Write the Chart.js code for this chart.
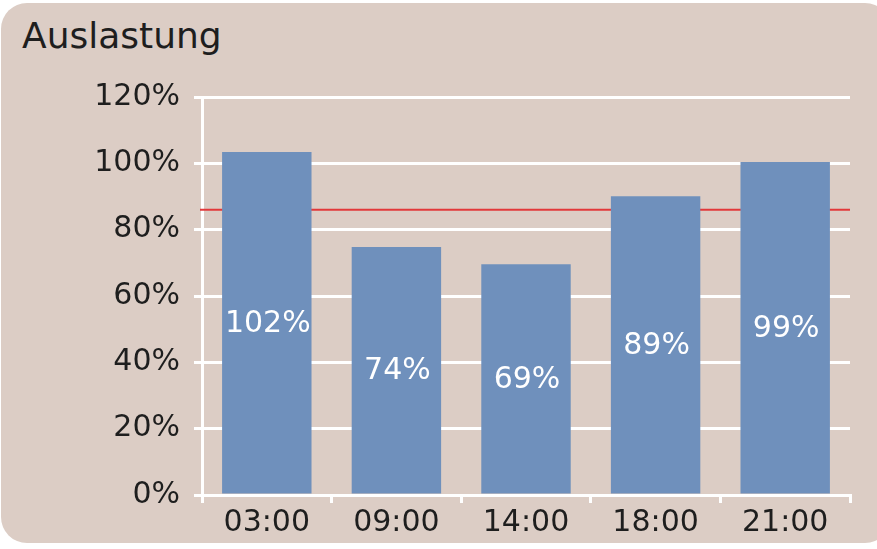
<!DOCTYPE html>
<html>
<head>
<meta charset="utf-8">
<script src="https://cdn.jsdelivr.net/npm/chart.js@4.4.1/dist/chart.umd.min.js"></script>
<style>
  html, body { margin:0; padding:0; background:#fff; }
  #wrap { position:relative; width:877px; height:549px; overflow:hidden; }
  #panel { position:absolute; left:1px; top:3px; width:890px; height:540px; background:#dccdc5; border-radius:26px; }
  #title { position:absolute; left:22px; top:15px; font:36px "DejaVu Sans", sans-serif; color:#1e1e1e; }
  canvas { position:absolute; left:0; top:0; }
</style>
</head>
<body>
<div id="wrap">
  <div id="panel"></div>
  <div id="title">Auslastung</div>
  <canvas id="c" width="877" height="549"></canvas>
</div>
<script>
// Auslastung je Uhrzeit
const categories = ['03:00', '09:00', '14:00', '18:00', '21:00'];
const auslastung = [103.4, 74.8, 69.6, 90.1, 100.4];   // Balkenhöhen aus dem Bild
const beschriftung = [102, 74, 69, 89, 99];             // gedruckte Werte
const zielwert = 86;
const yTicks = [0, 20, 40, 60, 80, 100, 120];

const FONT = '"DejaVu Sans", sans-serif';

// rote Ziellinie hinter den Balken
const targetLine = {
  id: 'targetLine',
  beforeDatasetsDraw(chart) {
    const { ctx, chartArea, scales } = chart;
    const y = scales.y.getPixelForValue(zielwert);
    ctx.save();
    ctx.strokeStyle = '#e2383a';
    ctx.lineWidth = 2;
    ctx.beginPath();
    ctx.moveTo(chartArea.left - 2, y);
    ctx.lineTo(chartArea.right, y);
    ctx.stroke();
    ctx.restore();
  }
};

// Werte in Balkenmitte
const barLabels = {
  id: 'barLabels',
  afterDatasetsDraw(chart) {
    const { ctx } = chart;
    const meta = chart.getDatasetMeta(0);
    ctx.save();
    ctx.fillStyle = '#ffffff';
    ctx.font = '30px ' + FONT;
    ctx.textAlign = 'center';
    ctx.textBaseline = 'middle';
    meta.data.forEach((bar, i) => {
      const mid = (bar.y + bar.base) / 2;
      ctx.fillText(beschriftung[i] + '%', bar.x + 1, mid + 1);
    });
    ctx.restore();
  }
};

new Chart(document.getElementById('c'), {
  type: 'bar',
  data: {
    labels: categories,
    datasets: [{
      data: auslastung,
      backgroundColor: '#6f90bc',
      borderWidth: 0,
      categoryPercentage: 0.69,
      barPercentage: 1
    }]
  },
  options: {
    responsive: false,
    animation: false,
    layout: { padding: { top: 97, right: 27, bottom: 0, left: 22 } },
    plugins: { legend: { display: false }, tooltip: { enabled: false } },
    scales: {
      x: {
        grid: { display: true, drawOnChartArea: false, color: '#ffffff', lineWidth: 3, tickLength: 8, offset: true },
        border: { display: true, color: '#ffffff', width: 3 },
        ticks: { color: '#1e1e1e', font: { family: FONT, size: 30 }, padding: 2 },
        afterFit(s) { s.height = 54; }
      },
      y: {
        min: 0, max: 120,
        afterBuildTicks(s) { s.ticks = yTicks.map(v => ({ value: v })); },
        grid: { color: '#ffffff', lineWidth: 3, tickLength: 8 },
        border: { display: true, color: '#ffffff', width: 3 },
        ticks: { color: '#1e1e1e', font: { family: FONT, size: 30 }, padding: 14, callback: v => v + '%' },
        afterFit(s) { s.width = 180; }
      }
    }
  },
  plugins: [targetLine, barLabels]
});
</script>
</body>
</html>
